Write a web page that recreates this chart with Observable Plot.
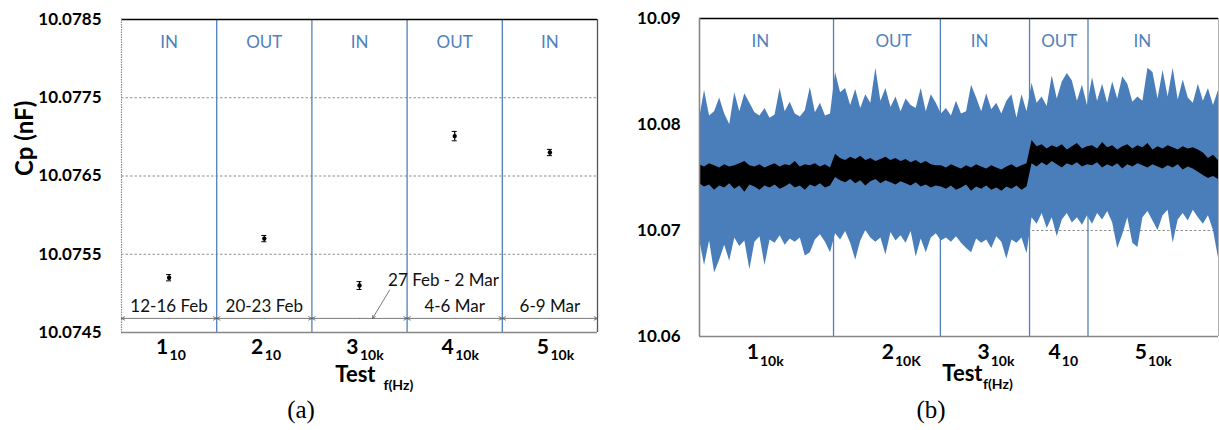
<!DOCTYPE html>
<html>
<head>
<meta charset="utf-8">
<script src="https://cdn.jsdelivr.net/npm/d3@7"></script>
<script src="https://cdn.jsdelivr.net/npm/@observablehq/plot@0.6"></script>
<style>
  body { margin: 0; background: #fff; }
  #fig { position: relative; width: 1219px; height: 430px; overflow: hidden; background: #fff; }
  .panel { position: absolute; top: 0; }
  .cap { position: absolute; top: 397px; font-family: "Liberation Serif", "Times New Roman", serif; font-size: 25px; color: #000; transform: translateX(-50%); line-height: 1; }
</style>
</head>
<body>
<div id="fig">
  <div id="pa" class="panel" style="left:0"></div>
  <div id="pb" class="panel" style="left:610px"></div>
  <div class="cap" style="left:301px">(a)</div>
  <div class="cap" style="left:931px">(b)</div>
</div>
<script>
// ---------- (a) mean capacitance per test ----------
const testsA = [1, 2, 3, 4, 5];
const freqA = ["10", "10", "10k", "10k", "10k"];
const cpA = [10.07520, 10.07570, 10.07510, 10.07701, 10.07680];
const errA = [0.00004, 0.00004, 0.00005, 0.00006, 0.00004];
const stateA = ["IN", "OUT", "IN", "OUT", "IN"];
const datesA = ["12-16 Feb", "20-23 Feb", "27 Feb - 2 Mar", "4-6 Mar", "6-9 Mar"];
const ticksA = [10.0745, 10.0755, 10.0765, 10.0775, 10.0785];

// ---------- (b) continuous record: envelope of the raw trace (blue) and of the averaged trace (black) ----------
const stateB = ["IN", "OUT", "IN", "OUT", "IN"];
const testB = ["1", "2", "3", "4", "5"];
const freqB = ["10k", "10K", "10k", "10", "10k"];
const boundsB = [26.6, 47.8, 65.5, 77.1];      // sample index where each test ends
const stateAtB = [12.1, 38.5, 55.6, 71.4, 87.9]; // sample index of each IN/OUT label
const tickAtB = [11.9, 38.7, 57.7, 71.8, 88.9];  // sample index of each test label
const ticksB = [10.06, 10.07, 10.08, 10.09];

const blueHi = [
  10.0805, 10.0832, 10.0808, 10.0812, 10.0825, 10.0810, 10.0800, 10.0830, 10.0812, 10.0829,
  10.0820, 10.0811, 10.0808, 10.0815, 10.0806, 10.0809, 10.0834, 10.0812, 10.0821, 10.0810,
  10.0807, 10.0813, 10.0835, 10.0811, 10.0820, 10.0808, 10.0810,
  10.0849, 10.0830, 10.0834, 10.0818, 10.0833, 10.0815, 10.0828, 10.0820, 10.0853, 10.0822,
  10.0834, 10.0816, 10.0826, 10.0812, 10.0824, 10.0818, 10.0815, 10.0834, 10.0812, 10.0828,
  10.0820,
  10.0810, 10.0815, 10.0808, 10.0822, 10.0810, 10.0812, 10.0837, 10.0825, 10.0812, 10.0829,
  10.0814, 10.0820, 10.0810, 10.0822, 10.0828, 10.0806, 10.0828, 10.0812,
  10.0839, 10.0820, 10.0826, 10.0817, 10.0846, 10.0824, 10.0840, 10.0848, 10.0841, 10.0822,
  10.0837, 10.0818,
  10.0844, 10.0822, 10.0838, 10.0820, 10.0840, 10.0824, 10.0845, 10.0838, 10.0821, 10.0826,
  10.0822, 10.0853, 10.0849, 10.0824, 10.0851, 10.0826, 10.0853, 10.0823, 10.0842, 10.0825,
  10.0820, 10.0838, 10.0822, 10.0834, 10.0818, 10.0832
];
const blueLo = [
  10.0692, 10.0667, 10.0690, 10.0660, 10.0672, 10.0686, 10.0671, 10.0693, 10.0685, 10.0690,
  10.0663, 10.0689, 10.0694, 10.0667, 10.0691, 10.0688, 10.0695, 10.0686, 10.0692, 10.0689,
  10.0693, 10.0676, 10.0679, 10.0691, 10.0696, 10.0689, 10.0679,
  10.0697, 10.0691, 10.0699, 10.0688, 10.0672, 10.0690, 10.0700, 10.0693, 10.0689, 10.0693,
  10.0677, 10.0698, 10.0690, 10.0695, 10.0688, 10.0699, 10.0675, 10.0692, 10.0679, 10.0693,
  10.0697,
  10.0690, 10.0693, 10.0689, 10.0694, 10.0688, 10.0683, 10.0679, 10.0692, 10.0688, 10.0691,
  10.0683, 10.0694, 10.0689, 10.0673, 10.0691, 10.0688, 10.0693, 10.0678,
  10.0712, 10.0706, 10.0716, 10.0702, 10.0712, 10.0694, 10.0710, 10.0716, 10.0707, 10.0712,
  10.0705, 10.0714,
  10.0706, 10.0716, 10.0710, 10.0718, 10.0707, 10.0683, 10.0696, 10.0712, 10.0688, 10.0684,
  10.0712, 10.0718, 10.0709, 10.0700, 10.0714, 10.0719, 10.0688, 10.0710, 10.0716, 10.0709,
  10.0719, 10.0712, 10.0706, 10.0714, 10.0700, 10.0674
];
const blackHi = [
  10.0762, 10.0760, 10.0763, 10.0761, 10.0759, 10.0762, 10.0760, 10.0761, 10.0763, 10.0765,
  10.0761, 10.0760, 10.0762, 10.0759, 10.0761, 10.0763, 10.0760, 10.0762, 10.0761, 10.0765,
  10.0760, 10.0762, 10.0761, 10.0763, 10.0760, 10.0762, 10.0759,
  10.0772, 10.0768, 10.0766, 10.0769, 10.0767, 10.0770, 10.0766, 10.0768, 10.0765, 10.0767,
  10.0769, 10.0766, 10.0768, 10.0765, 10.0767, 10.0764, 10.0766, 10.0763, 10.0765, 10.0762,
  10.0761,
  10.0761, 10.0759, 10.0762, 10.0760, 10.0758, 10.0761, 10.0759, 10.0762, 10.0760, 10.0758,
  10.0761, 10.0759, 10.0757, 10.0760, 10.0762, 10.0759, 10.0761, 10.0763,
  10.0785, 10.0779, 10.0781, 10.0777, 10.0780, 10.0778, 10.0781, 10.0776, 10.0779, 10.0782,
  10.0777, 10.0779,
  10.0780, 10.0777, 10.0783, 10.0778, 10.0780, 10.0776, 10.0779, 10.0781, 10.0777, 10.0780,
  10.0778, 10.0782, 10.0776, 10.0779, 10.0777, 10.0780, 10.0778, 10.0776, 10.0779, 10.0777,
  10.0778, 10.0776, 10.0773, 10.0768, 10.0771, 10.0766
];
const blackLo = [
  10.0744, 10.0741, 10.0743, 10.0738, 10.0742, 10.0740, 10.0744, 10.0739, 10.0742, 10.0736,
  10.0743, 10.0741, 10.0738, 10.0742, 10.0740, 10.0743, 10.0739, 10.0741, 10.0744, 10.0740,
  10.0742, 10.0738, 10.0743, 10.0741, 10.0744, 10.0740, 10.0742,
  10.0750, 10.0747, 10.0745, 10.0748, 10.0744, 10.0747, 10.0742, 10.0746, 10.0748, 10.0744,
  10.0747, 10.0745, 10.0743, 10.0746, 10.0744, 10.0742, 10.0745, 10.0741, 10.0743, 10.0740,
  10.0742,
  10.0741, 10.0739, 10.0742, 10.0738, 10.0740, 10.0743, 10.0737, 10.0741, 10.0739, 10.0742,
  10.0738, 10.0740, 10.0737, 10.0741, 10.0739, 10.0742, 10.0738, 10.0741,
  10.0763, 10.0760, 10.0764, 10.0761, 10.0765, 10.0762, 10.0759, 10.0763, 10.0761, 10.0764,
  10.0760, 10.0762,
  10.0761, 10.0764, 10.0759, 10.0762, 10.0760, 10.0763, 10.0758, 10.0762, 10.0760, 10.0763,
  10.0761, 10.0759, 10.0762, 10.0760, 10.0758, 10.0761, 10.0759, 10.0762, 10.0757, 10.0760,
  10.0758, 10.0755, 10.0752, 10.0749, 10.0751, 10.0748
];

// ---------- shared styling ----------
const font = "Lato, 'Open Sans', sans-serif";
const sectionBlue = "#4f81bd";
const traceBlue = "#4a7ebb";
const gridStyle = {stroke: "#8f8f8f", strokeWidth: 1, strokeDasharray: "2.5,2"};
const bold = {fontFamily: font, fontWeight: "bold", fill: "#000"};

// ---------- panel (a) ----------
const rowsA = testsA.map((t, i) => ({
  test: t, f: freqA[i], cp: cpA[i], lo: cpA[i] - errA[i], hi: cpA[i] + errA[i],
  state: stateA[i], dates: datesA[i]
}));
const dateLineY = 10.07468;   // level of the date spans
const leaderRise = 0.00036;   // height of the leader for the raised date label

const plotA = Plot.plot({
  width: 610, height: 395,
  marginTop: 19, marginBottom: 63, marginLeft: 121, marginRight: 13,
  style: {fontFamily: font, background: "transparent", overflow: "visible"},
  x: {domain: [0.5, 5.5], axis: null},
  y: {domain: [10.0745, 10.0785]},
  marks: [
    Plot.ruleY(ticksA.slice(1, -1), gridStyle),
    Plot.ruleX(testsA.slice(0, -1), {x: d => d + 0.5, stroke: sectionBlue, strokeWidth: 1.3}),
    Plot.ruleY([ticksA[ticksA.length - 1]], {stroke: "#000", strokeWidth: 1.3}),
    Plot.ruleY([ticksA[0]], {stroke: "#868686", strokeWidth: 1.6}),
    Plot.ruleX([0.5], {stroke: "#8a8a8a", strokeWidth: 1.2, strokeDasharray: "1.5,1"}),
    Plot.ruleX([5.5], {stroke: "#555", strokeWidth: 1.3}),
    Plot.axisY({ticks: ticksA, tickFormat: d3.format(".4f"), tickSize: 0, tickPadding: 20,
      fontSize: 17, fontWeight: "bold", fontFamily: font, fill: "#000", label: null}),
    // IN / OUT
    Plot.text(rowsA, {x: "test", text: "state", frameAnchor: "top", dy: 16,
      fill: sectionBlue, fontSize: 17, fontFamily: font}),
    // date spans
    Plot.arrow(rowsA, {x1: "test", x2: d => d.test - 0.5, y1: () => dateLineY, y2: () => dateLineY,
      stroke: "#5a5a5a", strokeWidth: 0.8, headLength: 7, headAngle: 55}),
    Plot.arrow(rowsA, {x1: "test", x2: d => d.test + 0.5, y1: () => dateLineY, y2: () => dateLineY,
      stroke: "#5a5a5a", strokeWidth: 0.8, headLength: 7, headAngle: 55}),
    Plot.text(rowsA, {filter: d => d.test !== 3, x: "test", y: () => dateLineY, text: "dates",
      dy: -12, fontSize: 17, fontFamily: font, fill: "#111"}),
    Plot.text(rowsA, {filter: d => d.test === 3, x: "test", y: () => dateLineY, text: "dates",
      dx: 84, dy: -38, fontSize: 17, fontFamily: font, fill: "#111"}),
    Plot.arrow(rowsA, {filter: d => d.test === 3,
      x1: d => d.test + 0.315, y1: () => dateLineY + leaderRise,
      x2: d => d.test + 0.137, y2: () => dateLineY,
      stroke: "#5a5a5a", strokeWidth: 0.8, headLength: 6, headAngle: 55}),
    // error bars and means
    Plot.ruleX(rowsA, {x: "test", y1: "lo", y2: "hi", stroke: "#000", strokeWidth: 1.2}),
    Plot.ruleY(rowsA, {x1: "test", x2: "test", y: "lo", insetLeft: -2.5, insetRight: -2.5, stroke: "#000", strokeWidth: 1}),
    Plot.ruleY(rowsA, {x1: "test", x2: "test", y: "hi", insetLeft: -2.5, insetRight: -2.5, stroke: "#000", strokeWidth: 1}),
    Plot.dot(rowsA, {x: "test", y: "cp", r: 2.2, fill: "#000", stroke: "none"}),
    // test labels with frequency subscripts
    Plot.text(rowsA, {x: "test", text: d => String(d.test), frameAnchor: "bottom", dy: 21.3, dx: -1,
      textAnchor: "end", fontSize: 21, ...bold}),
    Plot.text(rowsA, {x: "test", text: "f", frameAnchor: "bottom", dy: 27, dx: 0.5,
      textAnchor: "start", fontSize: 14, ...bold}),
    Plot.text(["Test"], {text: d => d, frameAnchor: "bottom", dx: 16, dy: 49.5, textAnchor: "end", fontSize: 22, ...bold}),
    Plot.text(["f(Hz)"], {text: d => d, frameAnchor: "bottom", dx: 24, dy: 57, textAnchor: "start", fontSize: 14, ...bold}),
    Plot.text(["Cp (nF)"], {text: d => d, frameAnchor: "left", dx: -96, rotate: -90, fontSize: 24, ...bold})
  ]
});
document.getElementById("pa").append(plotA);

// ---------- panel (b) ----------
const rowsB = blueHi.map((hi, i) => ({i, hi, lo: blueLo[i], bhi: blackHi[i], blo: blackLo[i]}));
const labelsB = testB.map((t, k) => ({t, f: freqB[k], state: stateB[k], at: tickAtB[k], sAt: stateAtB[k]}));

const plotB = Plot.plot({
  width: 609, height: 395,
  marginTop: 18, marginBottom: 59, marginLeft: 89, marginRight: 1,
  style: {fontFamily: font, background: "transparent", overflow: "visible"},
  x: {domain: [0, blueHi.length - 1], axis: null},
  y: {domain: [ticksB[0], ticksB[ticksB.length - 1]]},
  marks: [
    Plot.ruleY(ticksB.slice(1, -1), gridStyle),
    Plot.ruleX(boundsB, {stroke: sectionBlue, strokeWidth: 1.3}),
    Plot.areaY(rowsB, {x: "i", y1: "lo", y2: "hi", fill: traceBlue, curve: "linear"}),
    Plot.areaY(rowsB, {x: "i", y1: "blo", y2: "bhi", fill: "#000", curve: "linear"}),
    Plot.ruleY([ticksB[ticksB.length - 1]], {stroke: "#000", strokeWidth: 1.3}),
    Plot.ruleY([ticksB[0]], {stroke: "#868686", strokeWidth: 1.6}),
    Plot.ruleX([0], {stroke: "#868686", strokeWidth: 1.6}),
    Plot.ruleX([blueHi.length - 1], {stroke: "#b0b0b0", strokeWidth: 1}),
    Plot.axisY({ticks: ticksB, tickFormat: d3.format(".2f"), tickSize: 0, tickPadding: 19,
      fontSize: 17, fontWeight: "bold", fontFamily: font, fill: "#000", label: null}),
    Plot.text(labelsB, {x: "sAt", text: "state", frameAnchor: "top", dy: 16,
      fill: sectionBlue, fontSize: 17, fontFamily: font}),
    Plot.text(labelsB, {x: "at", text: "t", frameAnchor: "bottom", dy: 22.3, dx: -0.5,
      textAnchor: "end", fontSize: 21, ...bold}),
    Plot.text(labelsB, {x: "at", text: "f", frameAnchor: "bottom", dy: 29.5, dx: 0.5,
      textAnchor: "start", fontSize: 14, ...bold}),
    Plot.text(["Test"], {text: d => d, frameAnchor: "bottom", dx: 23.5, dy: 44, textAnchor: "end", fontSize: 22, ...bold}),
    Plot.text(["f(Hz)"], {text: d => d, frameAnchor: "bottom", dx: 24, dy: 52.5, textAnchor: "start", fontSize: 14, ...bold})
  ]
});
document.getElementById("pb").append(plotB);
</script>
</body>
</html>
